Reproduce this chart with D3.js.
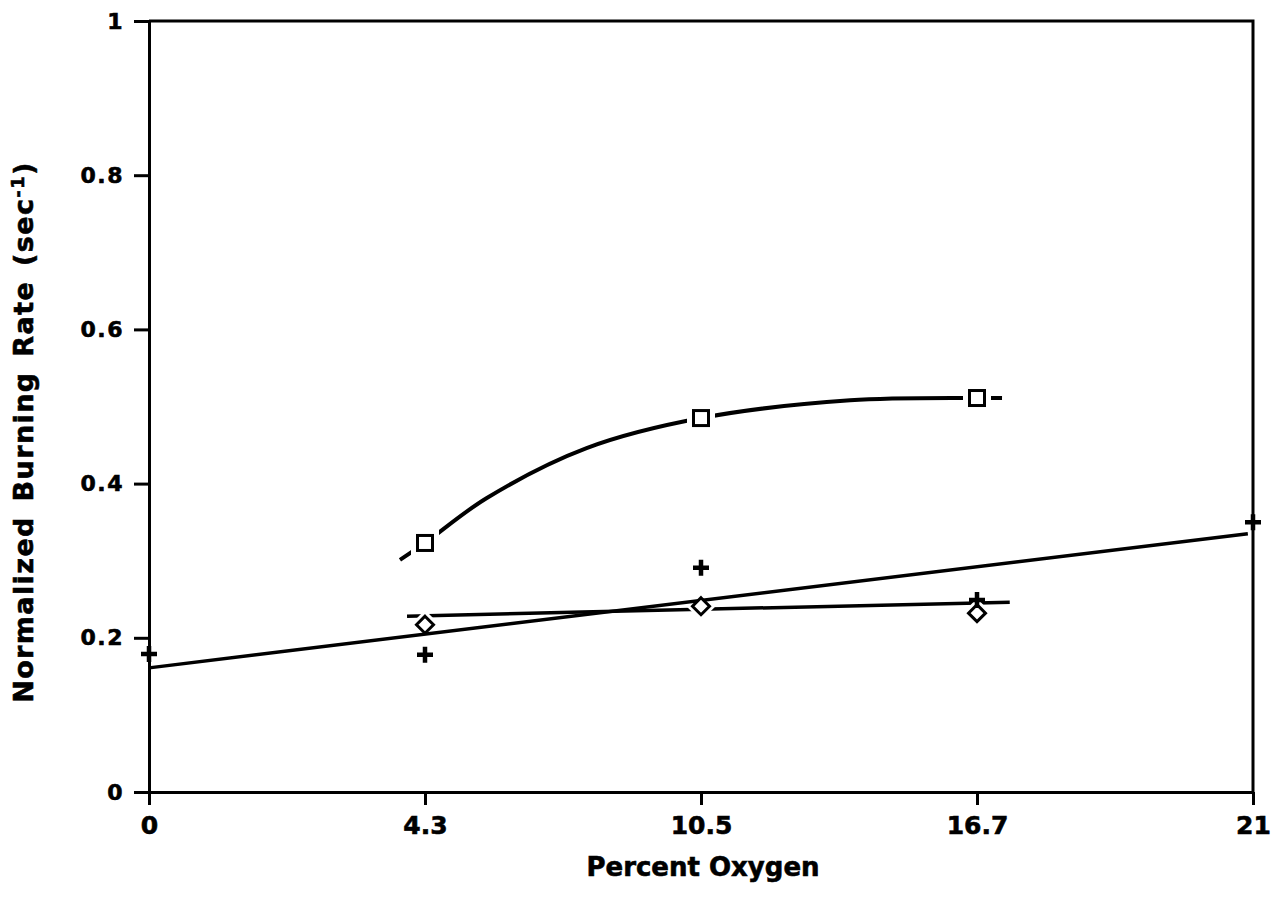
<!DOCTYPE html>
<html>
<head>
<meta charset="utf-8">
<script src="https://cdn.jsdelivr.net/npm/d3@7"></script>
<style>
  html, body { margin: 0; padding: 0; background: #fff; }
  svg { display: block; }
  text { font-family: "DejaVu Sans", "Liberation Sans", sans-serif; font-weight: bold; fill: #000; }
</style>
</head>
<body>
<svg id="chart" width="1274" height="906"></svg>
<script>
// Oxygen levels on the horizontal axis (evenly spaced positions)
const oxygenTicks = [0, 4.3, 10.5, 16.7, 21];
const rateTicks = [0, 0.2, 0.4, 0.6, 0.8, 1];

// Measured burning rates
const squareO2 = [4.3, 10.5, 16.7];
const squareRate = [0.323, 0.485, 0.511];
const diamondO2 = [4.3, 10.5, 16.7];
const diamondRate = [0.217, 0.241, 0.232];
const plusO2 = [0, 4.3, 10.5, 16.7, 21];
const plusRate = [0.179, 0.178, 0.291, 0.249, 0.350];

// Fitted curves through each set
const squareFitO2 = [3.91, 4.3, 5.68, 7.93, 10.5, 13.85, 16.7, 17.09];
const squareFitRate = [0.301, 0.323, 0.381, 0.446, 0.485, 0.508, 0.511, 0.511];
const diamondFitO2 = [4.02, 10.5, 17.21];
const diamondFitRate = [0.228, 0.237, 0.246];
const plusFitO2 = [0, 20.92];
const plusFitRate = [0.161, 0.335];

const svg = d3.select("#chart");
const plotLeft = 149, plotRight = 1253, plotTop = 21, plotBottom = 792;

const step = (plotRight - plotLeft) / (oxygenTicks.length - 1);
const x = d3.scaleLinear()
  .domain(oxygenTicks)
  .range(oxygenTicks.map((d, i) => plotLeft + i * step));
const y = d3.scaleLinear().domain([0, 1]).range([plotBottom, plotTop]);

const zip = (xs, ys) => xs.map((v, i) => [v, ys[i]]);

// Frame
svg.append("path")
  .attr("d", `M${plotLeft},${plotTop} H${plotRight} V${plotBottom}`)
  .attr("fill", "none").attr("stroke", "#000").attr("stroke-width", 3);

// Y axis
const yAxis = svg.append("g")
  .attr("transform", `translate(${plotLeft},0)`)
  .call(d3.axisLeft(y).tickValues(rateTicks).tickSize(15).tickSizeOuter(0)
    .tickPadding(10).tickFormat(d => String(d)));
yAxis.select(".domain").attr("stroke-width", 3);
yAxis.selectAll(".tick line").attr("stroke-width", 3);
yAxis.selectAll(".tick text")
  .attr("font-size", 22).attr("letter-spacing", 1.5)
  .attr("font-family", "DejaVu Sans").attr("font-weight", "bold")
  .attr("stroke", "#000").attr("stroke-width", 0.6);

// X axis
const xAxis = svg.append("g")
  .attr("transform", `translate(0,${plotBottom})`)
  .call(d3.axisBottom(x).tickValues(oxygenTicks).tickSize(13).tickSizeOuter(0)
    .tickPadding(11).tickFormat(d => String(d)));
xAxis.select(".domain").attr("stroke-width", 3);
xAxis.selectAll(".tick line").attr("stroke-width", 3);
xAxis.selectAll(".tick text")
  .attr("font-size", 25)
  .attr("font-family", "DejaVu Sans").attr("font-weight", "bold")
  .attr("stroke", "#000").attr("stroke-width", 0.6);

// Axis titles
svg.append("text")
  .attr("x", 703).attr("y", 876)
  .attr("text-anchor", "middle").attr("font-size", 26)
  .attr("stroke", "#000").attr("stroke-width", 0.6)
  .text("Percent Oxygen");

const yTitle = svg.append("text")
  .attr("transform", "translate(33,432) rotate(-90)")
  .attr("text-anchor", "middle").attr("font-size", 27)
  .attr("letter-spacing", 1.4).attr("word-spacing", 4)
  .attr("stroke", "#000").attr("stroke-width", 0.6);
yTitle.append("tspan").text("Normalized Burning Rate (sec");
yTitle.append("tspan").attr("font-size", 18).attr("dy", -9).text("-1");
yTitle.append("tspan").attr("dy", 9).text(")");

const line = d3.line().x(d => x(d[0])).y(d => y(d[1]));
const smooth = d3.line().x(d => x(d[0])).y(d => y(d[1])).curve(d3.curveCatmullRom.alpha(0.5));

// Square series: curve, then markers with a white gap around them
svg.append("path").datum(zip(squareFitO2, squareFitRate))
  .attr("d", smooth).attr("fill", "none").attr("stroke", "#000").attr("stroke-width", 4);
svg.selectAll(".sqHalo").data(zip(squareO2, squareRate)).join("rect")
  .attr("x", d => x(d[0]) - 8).attr("y", d => y(d[1]) - 8)
  .attr("width", 16).attr("height", 16)
  .attr("fill", "#fff").attr("stroke", "#fff").attr("stroke-width", 12);
svg.selectAll(".sq").data(zip(squareO2, squareRate)).join("rect")
  .attr("x", d => x(d[0]) - 7.5).attr("y", d => y(d[1]) - 7.5)
  .attr("width", 15).attr("height", 15)
  .attr("fill", "#fff").attr("stroke", "#000").attr("stroke-width", 3);

// Diamond series
svg.append("path").datum(zip(diamondFitO2, diamondFitRate))
  .attr("d", smooth).attr("fill", "none").attr("stroke", "#000").attr("stroke-width", 3.5);
const diamondPath = r => `M0,${-r} L${r},0 L0,${r} L${-r},0 Z`;
svg.selectAll(".dmHalo").data(zip(diamondO2, diamondRate)).join("path")
  .attr("transform", d => `translate(${x(d[0])},${y(d[1])})`)
  .attr("d", diamondPath(9)).attr("fill", "#fff").attr("stroke", "#fff").attr("stroke-width", 8);

// Regression line through the plus points
svg.append("path").datum(zip(plusFitO2, plusFitRate))
  .attr("d", line).attr("fill", "none").attr("stroke", "#000").attr("stroke-width", 3.5);

svg.selectAll(".dm").data(zip(diamondO2, diamondRate)).join("path")
  .attr("transform", d => `translate(${x(d[0])},${y(d[1])})`)
  .attr("d", diamondPath(8.5)).attr("fill", "#fff").attr("stroke", "#000").attr("stroke-width", 3);

// Plus markers
svg.selectAll(".pl").data(zip(plusO2, plusRate)).join("path")
  .attr("transform", d => `translate(${x(d[0])},${y(d[1])})`)
  .attr("d", "M-8,0 H8 M0,-8 V8")
  .attr("fill", "none").attr("stroke", "#000").attr("stroke-width", 4.5);
</script>
</body>
</html>
